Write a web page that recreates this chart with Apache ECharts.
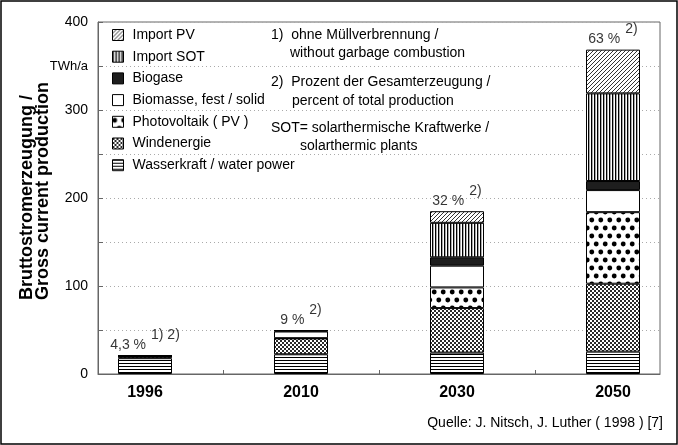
<!DOCTYPE html>
<html>
<head>
<meta charset="utf-8">
<script src="https://cdn.jsdelivr.net/npm/echarts@6/dist/echarts.min.js"></script>
<style>
html,body{margin:0;padding:0;background:#fff;}
#chart{width:678px;height:445px;}
</style>
</head>
<body>
<div id="chart"></div>
<script>
// ---- data ----
const categories = ['1996', '2010', '2030', '2050'];
const wasserkraft = [18, 22.4, 24.3, 25.4];
const windenergie = [2, 18, 50.6, 77.2];
const photovoltaik = [0, 0.3, 23.5, 81.3];
const biomasse = [0.5, 7.6, 24.7, 25.1];
const biogase = [0.4, 1, 9.5, 10.3];
const importSOT = [0, 0, 39.2, 99.6];
const importPV = [0, 0, 13.2, 49.7];
const percentLabels = ['4,3 %', '9 %', '32 %', '63 %'];
const footnoteLabels = ['1) 2)', '2)', '2)', '2)'];
const yTickValues = [0, 50, 100, 150, 200, 250, 300, 350, 400];
const yLabelValues = [0, 100, 200, 300, 350, 400];
const yUnitLabel = 'TWh/a';
const xBoundaryTicks = [0.5, 1.5, 2.5];
const seriesNames = ['Wasserkraft / water power', 'Windenergie', 'Photovoltaik ( PV )',
  'Biomasse, fest / solid', 'Biogase', 'Import SOT', 'Import PV'];

// ---- patterns ----
function makePattern(w, h, draw) {
  const c = document.createElement('canvas');
  c.width = w; c.height = h;
  const ctx = c.getContext('2d');
  ctx.fillStyle = '#fff';
  ctx.fillRect(0, 0, w, h);
  draw(ctx, w, h);
  return { image: c, repeat: 'repeat' };
}
const patHoriz = makePattern(4, 3, (ctx) => { ctx.fillStyle = '#000'; ctx.fillRect(0, 0, 4, 1); });
const patWind = makePattern(4, 4, (ctx) => { ctx.fillStyle = '#2a2a2a'; ctx.fillRect(0, 0, 2, 2); ctx.fillRect(2, 2, 2, 2); });
const patDots = makePattern(9, 16, (ctx, w, h) => {
  ctx.fillStyle = '#000';
  const pts = [[2.25, 4], [6.75, 12]];
  pts.forEach(([x, y]) => {
    for (let dx = -w; dx <= w; dx += w) for (let dy = -h; dy <= h; dy += h) {
      ctx.beginPath(); ctx.arc(x + dx, y + dy, 2.4, 0, Math.PI * 2); ctx.fill();
    }
  });
});
const patSOT = makePattern(3, 1, (ctx) => { ctx.fillStyle = '#000'; ctx.fillRect(0, 0, 1, 1); ctx.fillStyle = '#aaa'; ctx.fillRect(1, 0, 1, 1); });
const patImpPV = makePattern(4, 4, (ctx) => { ctx.fillStyle = '#333'; for (let i = 0; i < 4; i++) ctx.fillRect(3 - i, i, 1, 1); });
const fills = [patHoriz, patWind, patDots, '#ffffff', '#1e1e1e', patSOT, patImpPV];
const valueArrays = [wasserkraft, windenergie, photovoltaik, biomasse, biogase, importSOT, importPV];

const FONT = 'Liberation Sans, Arial, Helvetica, sans-serif';

const totals = categories.map((_, i) => valueArrays.reduce((s, arr) => s + arr[i], 0));

const barSeries = seriesNames.map((name, k) => ({
  name: name,
  type: 'bar',
  stack: 'total',
  barWidth: 54,
  xAxisIndex: 0,
  yAxisIndex: 0,
  data: valueArrays[k],
  itemStyle: { color: fills[k], borderColor: '#000', borderWidth: 1 },
  emphasis: { disabled: true }
}));

const labelSeries = {
  name: 'labels',
  type: 'scatter',
  xAxisIndex: 0,
  yAxisIndex: 0,
  symbolSize: 1,
  itemStyle: { color: 'rgba(0,0,0,0)' },
  data: totals,
  z: 10,
  label: {
    show: true,
    position: 'top',
    distance: 3,
    formatter: (p) => '{a|' + percentLabels[p.dataIndex] + '}{b|' + footnoteLabels[p.dataIndex] + '}',
    rich: {
      a: { fontSize: 14, fontFamily: FONT, color: '#000', verticalAlign: 'bottom' },
      b: { fontSize: 14, fontFamily: FONT, color: '#000', verticalAlign: 'bottom', padding: [0, 0, 10, 5] }
    }
  }
};

// layout: bars grid (category bands) and frame grid share the same vertical extent
const W = 678, BAND = 156, FIRST_CENTER = 145, FRAME_L = 98, FRAME_R = 660;
const chart = echarts.init(document.getElementById('chart'), null, { renderer: 'canvas' });
chart.setOption({
  animation: false,
  backgroundColor: '#fff',
  textStyle: { fontFamily: FONT },
  grid: [
    { left: FIRST_CENTER - BAND / 2, right: W - (FIRST_CENTER - BAND / 2 + BAND * 4), top: 22, bottom: 71, show: false, outerBoundsMode: 'none', containLabel: false },
    { left: FRAME_L, right: W - FRAME_R, top: 22, bottom: 71, show: true, borderColor: '#666', borderWidth: 1, outerBoundsMode: 'none', containLabel: false }
  ],
  legend: {
    orient: 'vertical',
    left: 112,
    top: 28,
    padding: 0,
    itemWidth: 11,
    itemHeight: 11,
    itemGap: 7.7,
    icon: 'rect',
    data: seriesNames.slice().reverse(),
    itemStyle: { borderColor: '#000', borderWidth: 1 },
    textStyle: { fontSize: 14, fontFamily: FONT, color: '#000', lineHeight: 14, padding: [0, 0, 0, 4] },
    selectedMode: false
  },
  xAxis: [
    {
      gridIndex: 0,
      type: 'category',
      data: categories,
      boundaryGap: true,
      axisLine: { show: false },
      axisTick: { show: false },
      splitLine: { show: false },
      axisLabel: { fontSize: 16, fontWeight: 'bold', color: '#000', margin: 11, fontFamily: FONT }
    },
    {
      gridIndex: 1,
      type: 'value',
      min: (FRAME_L - FIRST_CENTER) / BAND,
      max: (FRAME_R - FIRST_CENTER) / BAND,
      splitLine: { show: false },
      axisLine: { show: true, onZero: false, lineStyle: { color: '#666' } },
      axisTick: { show: true, inside: true, length: 4, customValues: xBoundaryTicks, lineStyle: { color: '#666' } },
      axisLabel: { show: false }
    }
  ],
  yAxis: [
    { gridIndex: 0, type: 'value', min: 0, max: 400, show: false, splitLine: { show: false } },
    {
      gridIndex: 1,
      type: 'value',
      min: 0,
      max: 400,
      interval: 100,
      axisLine: { show: true, onZero: false, lineStyle: { color: '#666' } },
      axisTick: { show: true, inside: true, length: 5, customValues: yTickValues, lineStyle: { color: '#666' } },
      axisLabel: {
        customValues: yLabelValues,
        formatter: (v) => (v === 350 ? '{u|' + yUnitLabel + '}' : String(v)),
        rich: { u: { fontSize: 13, fontFamily: FONT, color: '#000' } },
        fontSize: 14, color: '#000', margin: 10, fontFamily: FONT
      },
      splitLine: { show: true, lineStyle: { type: [1, 3], color: '#aaa', width: 1 } }
    }
  ],
  graphic: [
    { type: 'rect', shape: { x: 1, y: 1, width: 676, height: 443 }, style: { fill: 'none', stroke: '#000', lineWidth: 1.5 }, silent: true },
    { type: 'text', x: 35, y: 300, rotation: Math.PI / 2,
      style: { text: 'Bruttostromerzeugung /\nGross current production', fontSize: 18, fontWeight: 'bold', fontFamily: FONT, fill: '#000', align: 'left', verticalAlign: 'middle', lineHeight: 16 } },
    { type: 'text', x: 271, y: 35, style: { text: '1)  ohne Müllverbrennung /', fontSize: 14, fontFamily: FONT, fill: '#000', verticalAlign: 'middle' } },
    { type: 'text', x: 290, y: 53, style: { text: 'without garbage combustion', fontSize: 14, fontFamily: FONT, fill: '#000', verticalAlign: 'middle' } },
    { type: 'text', x: 271, y: 82, style: { text: '2)  Prozent der Gesamterzeugung /', fontSize: 14, fontFamily: FONT, fill: '#000', verticalAlign: 'middle' } },
    { type: 'text', x: 292, y: 101, style: { text: 'percent of total production', fontSize: 14, fontFamily: FONT, fill: '#000', verticalAlign: 'middle' } },
    { type: 'text', x: 271, y: 128, style: { text: 'SOT= solarthermische Kraftwerke /', fontSize: 14, fontFamily: FONT, fill: '#000', verticalAlign: 'middle' } },
    { type: 'text', x: 300, y: 146, style: { text: 'solarthermic plants', fontSize: 14, fontFamily: FONT, fill: '#000', verticalAlign: 'middle' } },
    { type: 'text', x: 663, y: 423, style: { text: 'Quelle: J. Nitsch, J. Luther ( 1998 ) [7]', fontSize: 14, fontFamily: FONT, fill: '#000', align: 'right', verticalAlign: 'middle' } }
  ],
  series: barSeries.concat([labelSeries])
});
</script>
</body>
</html>
